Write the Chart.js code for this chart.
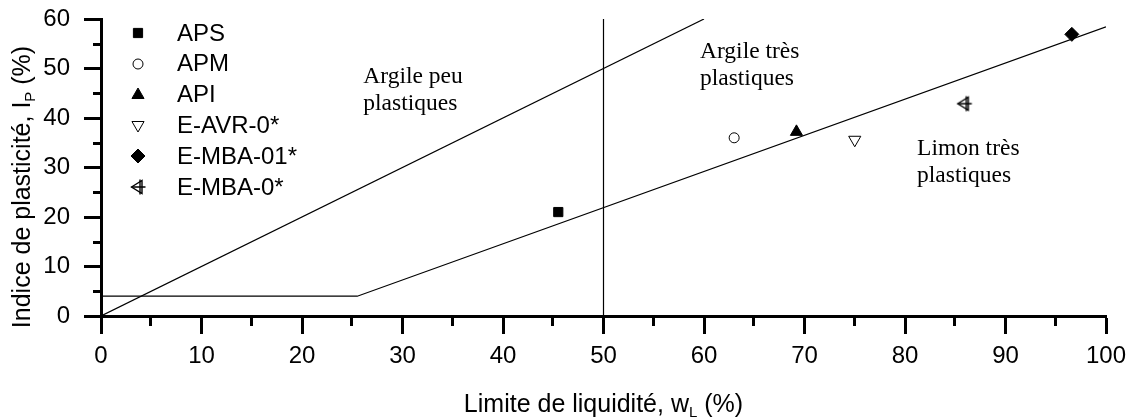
<!DOCTYPE html>
<html>
<head>
<meta charset="utf-8">
<script src="https://cdn.jsdelivr.net/npm/chart.js@4"></script>
<style>
    html, body { margin: 0; padding: 0; background: #fff; }
    #wrap { width: 1131px; height: 420px; position: relative; }
</style>
</head>
<body>
<div id="wrap"><canvas id="plasticityChart"></canvas></div>
<script>
    // Samples: liquid limit wL (%) and plasticity index Ip (%)
    const sampleNames = ['APS', 'APM', 'API', 'E-AVR-0*', 'E-MBA-01*', 'E-MBA-0*'];
    const sampleWL = [45.5, 63.0, 69.2, 75.0, 96.6, 85.9];
    const sampleIP = [21.0, 36.0, 37.2, 35.6, 56.9, 42.9];

    // Reference lines of the plasticity chart
    const aLineWL = [0, 25.5, 100];
    const aLineIP = [4, 4, 58.4];
    const uLineWL = [0, 60];
    const uLineIP = [0, 60];
    const limitWL = [50, 50];
    const limitIP = [0, 60];

    // Zone labels (anchored in data units)
    const zoneText = [['Argile peu', 'plastiques'], ['Argile très', 'plastiques'], ['Limon très', 'plastiques']];
    const zoneWL = [26.1, 59.6, 81.2];
    const zoneIP = [47.1, 52.1, 32.5];

    const sansFont = "'Liberation Sans', Arial, sans-serif";
    const serifFont = "'Liberation Serif', 'Times New Roman', serif";

    Chart.defaults.font.family = sansFont;
    Chart.defaults.color = '#000';

    // left triangle with a cross, used for E-MBA-0*
    function crossTriangle() {
        const c = document.createElement('canvas');
        c.width = 20; c.height = 20;
        const g = c.getContext('2d');
        g.strokeStyle = '#000';
        g.lineWidth = 1.4;
        g.beginPath();
        g.moveTo(3.5, 10); g.lineTo(14, 3.5); g.lineTo(14, 16.5); g.closePath();
        g.stroke();
        g.beginPath();
        g.moveTo(12, 2.5); g.lineTo(12, 17.5);
        g.moveTo(3.5, 10); g.lineTo(17.5, 10);
        g.stroke();
        return c;
    }

    const markerStyle = ['rect', 'circle', 'triangle', 'triangle', 'rectRot', crossTriangle()];
    const markerRot = [0, 0, 0, 180, 0, 0];
    const markerFill = ['#000', '#fff', '#000', '#fff', '#000', '#fff'];
    const markerSize = [6.5, 5, 7, 7, 7, 10];

    const lineDs = (wl, ip) => ({
        type: 'line',
        data: wl.map((x, i) => ({ x: x, y: ip[i] })),
        borderColor: '#000',
        borderWidth: 1.2,
        pointRadius: 0,
        fill: false,
        tension: 0
    });

    const datasets = [
        lineDs(aLineWL, aLineIP),
        lineDs(uLineWL, uLineIP),
        lineDs(limitWL, limitIP)
    ];
    sampleNames.forEach((name, i) => {
        datasets.push({
            label: name,
            data: [{ x: sampleWL[i], y: sampleIP[i] }],
            pointStyle: markerStyle[i],
            rotation: markerRot[i],
            backgroundColor: markerFill[i],
            borderColor: '#000',
            borderWidth: 1,
            pointRadius: markerSize[i]
        });
    });

    // minor ticks, legend, zone labels and axis titles
    const decorations = {
        id: 'decorations',
        afterDraw(chart) {
            const ctx = chart.ctx;
            const xs = chart.scales.x, ys = chart.scales.y;
            const area = chart.chartArea;
            ctx.save();

            // minor ticks
            ctx.strokeStyle = '#000';
            ctx.lineWidth = 3;
            ctx.beginPath();
            for (let v = 5; v < 100; v += 10) {
                const px = Math.round(xs.getPixelForValue(v)) - 0.5;
                ctx.moveTo(px, area.bottom); ctx.lineTo(px, area.bottom + 10);
            }
            for (let v = 5; v < 60; v += 10) {
                const py = Math.round(ys.getPixelForValue(v)) + 0.5;
                ctx.moveTo(area.left - 8, py); ctx.lineTo(area.left, py);
            }
            ctx.stroke();

            // legend
            ctx.font = '24px ' + sansFont;
            ctx.textBaseline = 'middle';
            ctx.textAlign = 'left';
            sampleNames.forEach((name, i) => {
                const y = 33 + i * 30.8;
                ctx.fillStyle = markerFill[i];
                ctx.strokeStyle = '#000';
                ctx.lineWidth = 1;
                Chart.helpers.drawPoint(ctx, {
                    pointStyle: markerStyle[i],
                    rotation: markerRot[i],
                    radius: markerSize[i],
                    borderWidth: 1
                }, 138, Math.round(y));
                ctx.fillStyle = '#000';
                ctx.fillText(name, 177, y + 1);
            });

            // zone labels
            ctx.font = '23.5px ' + serifFont;
            ctx.textBaseline = 'alphabetic';
            zoneText.forEach((lines, i) => {
                const x = xs.getPixelForValue(zoneWL[i]);
                const y = ys.getPixelForValue(zoneIP[i]);
                lines.forEach((t, k) => ctx.fillText(t, x, y + k * 27));
            });

            // axis titles with subscripts
            const drawRich = (parts, cx, base) => {
                let total = 0;
                parts.forEach(p => {
                    ctx.font = (p.sub ? '15px ' : '25px ') + sansFont;
                    p.w = ctx.measureText(p.t).width;
                    total += p.w;
                });
                let x = cx - total / 2;
                parts.forEach(p => {
                    ctx.font = (p.sub ? '15px ' : '25px ') + sansFont;
                    ctx.fillText(p.t, x, base + (p.sub ? 5 : 0));
                    x += p.w;
                });
            };
            ctx.fillStyle = '#000';
            ctx.textAlign = 'left';
            drawRich([{ t: 'Limite de liquidité, w' }, { t: 'L', sub: true }, { t: ' (%)' }],
                (area.left + area.right) / 2, 412);

            ctx.translate(30, 187);
            ctx.rotate(-Math.PI / 2);
            drawRich([{ t: 'Indice de plasticité, I' }, { t: 'P', sub: true }, { t: ' (%)' }], 0, 0);

            ctx.restore();
        }
    };

    const ctx = document.getElementById('plasticityChart').getContext('2d');
    const plasticityChart = new Chart(ctx, {
        type: 'scatter',
        data: { datasets: datasets },
        options: {
            responsive: true,
            maintainAspectRatio: false,
            animation: false,
            layout: { padding: { left: 0, top: 19, right: 25, bottom: 0 } },
            plugins: {
                legend: { display: false },
                tooltip: { enabled: false }
            },
            scales: {
                x: {
                    type: 'linear',
                    min: 0,
                    max: 100,
                    afterFit: s => { s.height = 104; s.paddingLeft = 0; s.paddingRight = 0; },
                    ticks: { stepSize: 10, font: { size: 24 }, padding: 8, color: '#000' },
                    grid: { drawOnChartArea: false, tickLength: 18, tickWidth: 3, color: '#000' },
                    border: { display: true, width: 3, color: '#000' }
                },
                y: {
                    type: 'linear',
                    min: 0,
                    max: 60,
                    afterFit: s => { s.width = 101; s.paddingTop = 0; s.paddingBottom = 0; },
                    ticks: { stepSize: 10, font: { size: 24 }, padding: 14, color: '#000' },
                    grid: { drawOnChartArea: false, tickLength: 17, tickWidth: 3, color: '#000' },
                    border: { display: true, width: 3, color: '#000' }
                }
            }
        },
        plugins: [decorations]
    });
</script>
</body>
</html>
